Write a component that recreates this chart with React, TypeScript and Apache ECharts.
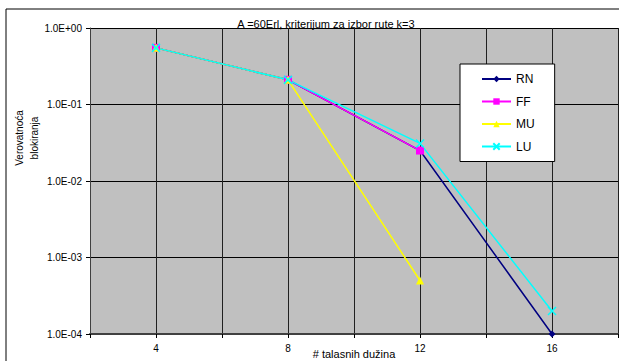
import React, { useEffect, useRef } from "react";
import * as echarts from "echarts";

const xValues = [4, 8, 12, 16];
const rnValues = [0.55, 0.21, 0.025, 0.0001];
const ffValues = [0.55, 0.21, 0.025];
const muValues = [0.55, 0.21, 0.0005];
const luValues = [0.55, 0.21, 0.031, 0.0002];
const xTickLabels = [4, 8, 12, 16];

const pairs = (vals: number[]) => vals.map((v, i) => [xValues[i], v]);
const FONT = "Liberation Sans, Arial, sans-serif";

export default function App() {
  const ref = useRef<HTMLDivElement>(null);
  useEffect(() => {
    const chart = echarts.init(ref.current!, null, { renderer: "svg" });
    const mk = (name: string, vals: number[], color: string, symbol: string, size: number) => ({
      name,
      type: "line",
      data: pairs(vals),
      symbol,
      symbolSize: size,
      showSymbol: true,
      lineStyle: { color, width: 1.5 },
      itemStyle: { color, borderColor: color, borderWidth: symbol.startsWith("path") ? 1.5 : 0 },
      emphasis: { disabled: true },
    });
    chart.setOption({
      animation: false,
      title: {
        text: "A =60Erl, kriterijum za izbor rute k=3",
        left: 321,
        textAlign: "center",
        top: 13,
        textStyle: { fontFamily: FONT, fontSize: 11, fontWeight: "normal", color: "#000" },
      },
      grid: {
        left: 90,
        right: 1,
        top: 28,
        bottom: 27,
        show: true,
        backgroundColor: "#C0C0C0",
        borderWidth: 0,
        outerBoundsMode: "none",
        containLabel: false,
      },
      legend: {
        orient: "vertical",
        left: 460,
        top: 64,
        backgroundColor: "#fff",
        borderColor: "#000",
        borderWidth: 1,
        padding: [9, 20, 9, 21],
        itemWidth: 29,
        itemHeight: 8,
        itemGap: 10.5,
        textStyle: { fontFamily: FONT, fontSize: 12, color: "#000" },
        data: ["RN", "FF", "MU", "LU"],
      },
      xAxis: {
        type: "value",
        min: 2,
        max: 18,
        interval: 2,
        name: "# talasnih dužina",
        nameLocation: "middle",
        nameGap: 14,
        nameMoveOverlap: false,
        nameTextStyle: { fontFamily: FONT, fontSize: 11, color: "#000", verticalAlign: "top" },
        axisLine: { show: true, lineStyle: { color: "#404040", width: 2 } },
        axisTick: { show: true, length: 4, lineStyle: { color: "#000" } },
        axisLabel: {
          fontFamily: FONT,
          fontSize: 10,
          color: "#000",
          margin: 9,
          formatter: (v: number) => (xTickLabels.includes(v) ? String(v) : ""),
        },
        splitLine: { show: true, lineStyle: { color: "#202020", width: 1 } },
      },
      yAxis: {
        type: "log",
        logBase: 10,
        min: 0.0001,
        max: 1,
        axisLine: { show: true, lineStyle: { color: "#404040", width: 1 } },
        axisTick: { show: true, length: 4, lineStyle: { color: "#000" } },
        axisLabel: {
          fontFamily: FONT,
          fontSize: 10,
          color: "#000",
          margin: 8,
          formatter: (v: number) => {
            const e = Math.round(Math.log10(v));
            return "1.0E" + (e >= 0 ? "+" : "-") + String(Math.abs(e)).padStart(2, "0");
          },
        },
        splitLine: { show: true, lineStyle: { color: "#000", width: 1 } },
        minorTick: { show: false },
      },
      graphic: [
        {
          type: "rect",
          shape: { x: 6, y: 9, width: 640, height: 400 },
          style: { fill: "none", stroke: "#000", lineWidth: 1 },
          silent: true,
        },
        {
          type: "text",
          x: 27,
          y: 138,
          rotation: Math.PI / 2,
          style: {
            text: "Verovatnoća\nblokiranja",
            fontFamily: FONT,
            fontSize: 10,
            fill: "#000",
            align: "center",
            verticalAlign: "middle",
            lineHeight: 15,
          },
          silent: true,
        },
      ],
      series: [
        mk("RN", rnValues, "#000080", "diamond", 7),
        mk("FF", ffValues, "#FF00FF", "rect", 8),
        mk("MU", muValues, "#FFFF00", "triangle", 8),
        mk("LU", luValues, "#00FFFF", "path://M0,0L10,10M10,0L0,10", 8),
      ],
    });
    return () => chart.dispose();
  }, []);
  return (
    <div
      ref={ref}
      style={{ position: "fixed", left: 0, top: 0, width: 619, height: 361, background: "#fff" }}
    />
  );
}
